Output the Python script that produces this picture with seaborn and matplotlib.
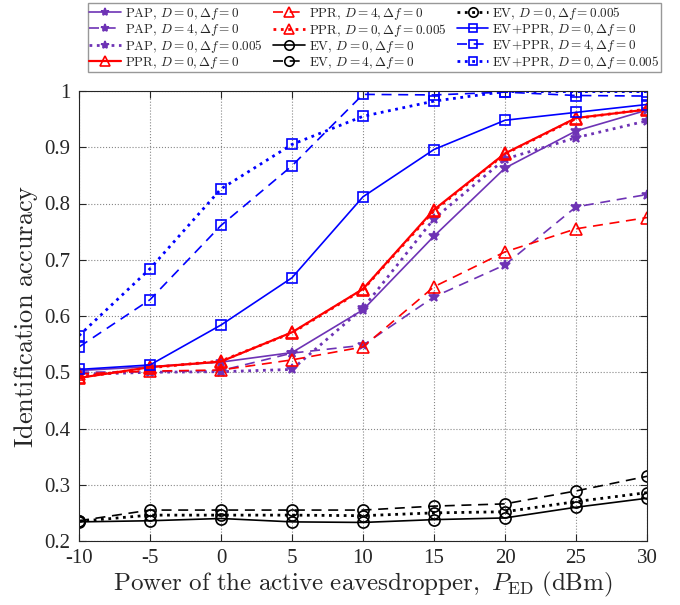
import matplotlib
matplotlib.use("Agg")
import matplotlib.pyplot as plt
import seaborn as sns
import numpy as np

power = [-10, -5, 0, 5, 10, 15, 20, 25, 30]

pap_d0 = [0.503, 0.510, 0.518, 0.535, 0.611, 0.742, 0.863, 0.929, 0.966]
pap_d4 = [0.500, 0.501, 0.503, 0.534, 0.548, 0.634, 0.691, 0.794, 0.816]
pap_df = [0.496, 0.500, 0.501, 0.505, 0.614, 0.773, 0.879, 0.917, 0.947]
ppr_d0 = [0.490, 0.509, 0.519, 0.571, 0.648, 0.789, 0.889, 0.952, 0.967]
ppr_d4 = [0.497, 0.502, 0.504, 0.522, 0.545, 0.652, 0.714, 0.755, 0.775]
ppr_df = [0.491, 0.508, 0.520, 0.570, 0.647, 0.787, 0.888, 0.951, 0.968]
ev_d0 = [0.234, 0.236, 0.240, 0.234, 0.233, 0.238, 0.241, 0.260, 0.276]
ev_d4 = [0.236, 0.255, 0.255, 0.255, 0.255, 0.262, 0.266, 0.289, 0.315]
ev_df = [0.235, 0.246, 0.246, 0.246, 0.245, 0.250, 0.252, 0.270, 0.286]
evppr_d0 = [0.505, 0.513, 0.584, 0.668, 0.812, 0.896, 0.948, 0.962, 0.976]
evppr_d4 = [0.545, 0.629, 0.761, 0.867, 0.994, 0.993, 0.998, 0.992, 0.991]
evppr_df = [0.565, 0.684, 0.826, 0.905, 0.955, 0.982, 0.999, 0.999, 0.999]

labels = [
    r"$\mathrm{PAP},\, D=0, \Delta f=0$",
    r"$\mathrm{PAP},\, D=4, \Delta f=0$",
    r"$\mathrm{PAP},\, D=0, \Delta f=0.005$",
    r"$\mathrm{PPR},\, D=0, \Delta f=0$",
    r"$\mathrm{PPR},\, D=4, \Delta f=0$",
    r"$\mathrm{PPR},\, D=0, \Delta f=0.005$",
    r"$\mathrm{EV},\, D=0, \Delta f=0$",
    r"$\mathrm{EV},\, D=4, \Delta f=0$",
    r"$\mathrm{EV},\, D=0, \Delta f=0.005$",
    r"$\mathrm{EV\!+\!PPR},\, D=0, \Delta f=0$",
    r"$\mathrm{EV\!+\!PPR},\, D=4, \Delta f=0$",
    r"$\mathrm{EV\!+\!PPR},\, D=0, \Delta f=0.005$",
]

sns.set_theme(style="white")
plt.rcParams["font.family"] = ["Liberation Serif", "DejaVu Serif"]
plt.rcParams["mathtext.fontset"] = "cm"

purple = "#6E33B5"
red = "#FF0000"
black = "#000000"
blue = "#0000FF"

series = [
    (pap_d0, purple, "*", "-", 1.2, 7),
    (pap_d4, purple, "*", (0, (6, 4)), 1.2, 7),
    (pap_df, purple, "*", ":", 2.0, 7),
    (ppr_d0, red, "^", "-", 1.6, 9),
    (ppr_d4, red, "^", (0, (6, 4)), 1.2, 9),
    (ppr_df, red, "^", ":", 2.0, 9),
    (ev_d0, black, "o", "-", 1.2, 8),
    (ev_d4, black, "o", (0, (6, 4)), 1.2, 8),
    (ev_df, black, "o", ":", 2.0, 8),
    (evppr_d0, blue, "s", "-", 1.2, 7),
    (evppr_d4, blue, "s", (0, (6, 4)), 1.2, 7),
    (evppr_df, blue, "s", ":", 2.0, 7),
]

fig = plt.figure(figsize=(6.8, 6.05), dpi=100)
ax = fig.add_axes([79 / 680, 1 - 541 / 605, 568 / 680, 450 / 605])

for (vals, col, mk, ls, lw, ms), lab in zip(series, labels):
    mfc = col if mk == "*" else "none"
    sns.lineplot(x=power, y=vals, ax=ax, color=col, marker=mk, linestyle=ls,
                 linewidth=lw, markersize=ms, markerfacecolor=mfc,
                 markeredgecolor=col, markeredgewidth=1.2, label=lab)

ax.set_xlim(-10, 30)
ax.set_ylim(0.2, 1.0)
ax.set_xticks(power)
ax.set_xticklabels([str(p) for p in power])
yt = [0.2, 0.3, 0.4, 0.5, 0.6, 0.7, 0.8, 0.9, 1.0]
ax.set_yticks(yt)
ax.set_yticklabels(["0.2", "0.3", "0.4", "0.5", "0.6", "0.7", "0.8", "0.9", "1"])
ax.tick_params(direction="in", length=5, width=0.8, labelsize=15, colors="#262626",
               top=True, right=True, bottom=True, left=True, pad=6)
ax.grid(True, linestyle=":", color="#555555", linewidth=0.8, alpha=0.7)
for s in ax.spines.values():
    s.set_color("#262626")
    s.set_linewidth(0.8)

ax.set_xlabel(r"$\mathrm{Power\ of\ the\ active\ eavesdropper},\ P_{\mathrm{ED}}\ \mathrm{(dBm)}$",
              fontsize=18, labelpad=1)
ax.set_ylabel(r"$\mathrm{Identification\ accuracy}$", fontsize=19, labelpad=3)

leg = ax.legend(ncol=3, loc="upper center",
                bbox_to_anchor=(374.5 / 680, 1 - 3 / 605), bbox_transform=fig.transFigure,
                fontsize=9.5, frameon=True, fancybox=False, edgecolor="#7f7f7f",
                handlelength=2.4, handletextpad=0.3, columnspacing=0.8,
                labelspacing=0.0, borderpad=0.12, borderaxespad=0,
                markerscale=0.85)
leg.get_frame().set_linewidth(1.0)

fig.savefig("out.png", dpi=100)
